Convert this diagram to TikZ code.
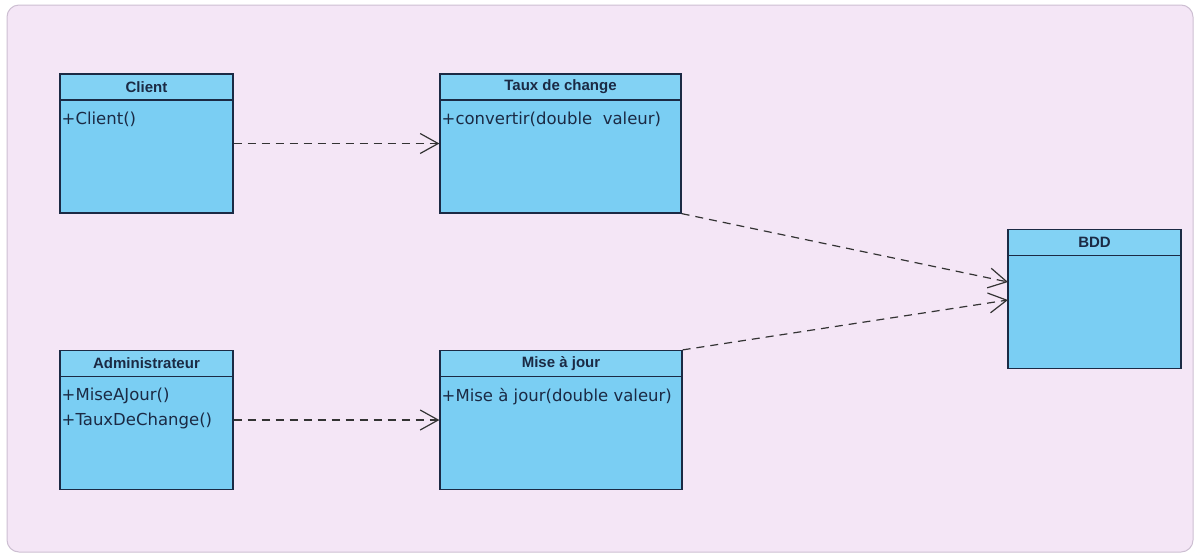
\documentclass[tikz,border=0pt]{standalone}
\usepackage{fontspec}
\setmainfont{Liberation Sans}
\newfontfamily\methodfont{DejaVu Sans}
\usetikzlibrary{arrows.meta,positioning}

\definecolor{bgfill}{HTML}{F4E6F6}
\definecolor{bgline}{HTML}{CDBFD2}
\definecolor{classfill}{HTML}{7ACEF3}
\definecolor{headfill}{HTML}{82D2F4}
\definecolor{classline}{HTML}{1B2A44}

\begin{document}
\begin{tikzpicture}[x=1pt,y=-1pt,
                    dep/.style={-{Straight Barb[length=18pt,width=20pt]},dash pattern=on 8pt off 6pt,
                                line width=1.2pt,draw=black!80},
                    semithick]
  \tikzstyle{classbox}=[draw=classline,fill=classfill,line width=1.2pt,minimum width=173pt,
                        minimum height=139pt,inner sep=0pt]
  \tikzstyle{classhead}=[draw=classline,fill=headfill,line width=1.2pt,minimum height=26pt,
                         inner sep=0pt,font=\fontsize{15}{17}\selectfont\bfseries,text=classline]
  \tikzstyle{methods}=[align=left,inner sep=2pt,font=\methodfont\fontsize{16.5}{25}\selectfont,
                       text=classline]

  \useasboundingbox (0,0) rectangle (1199,555);
  \draw[fill=bgfill,draw=bgline,line width=1pt,rounded corners=12pt] (7,5) rectangle (1193,552);

  % classes
  \node[classbox]                    (client) at (146.5,143.5) {};
  \node[classbox,minimum width=241pt] (taux)  at (560.5,143.5) {};
  \node[classbox]                    (admin)  at (146.5,420)   {};
  \node[classbox,minimum width=242pt] (maj)   at (561,420)     {};
  \node[classbox]                    (bdd)    at (1094.5,299)  {};

  \node[classhead,minimum width=173pt,anchor=north] (clienth) at (client.north) {Client};
  \node[classhead,minimum width=241pt,anchor=north] (tauxh)   at (taux.north)   {Taux de change};
  \node[classhead,minimum width=173pt,anchor=north] (adminh)  at (admin.north)  {Administrateur};
  \node[classhead,minimum width=242pt,anchor=north] (majh)    at (maj.north)    {Mise à jour};
  \node[classhead,minimum width=173pt,anchor=north] (bddh)    at (bdd.north)    {BDD};

  \node[methods,below right=9pt and 0pt of clienth.south west] (clientm) {+Client()};
  \node[methods,below right=9pt and 0pt of tauxh.south west]   (tauxm)   {+convertir(double\ \ valeur)};
  \node[methods,below right=9pt and 0pt of adminh.south west]  (adminm)  {+MiseAJour()\\+TauxDeChange()};
  \node[methods,below right=9pt and 0pt of majh.south west]    (majm)    {+Mise à jour(double valeur)};

  % dependencies
  \coordinate (bddin1) at (1008,282);
  \coordinate (bddin2) at (1008,300);
  \draw[dep] (client.east) -- (taux.west);
  \draw[dep] (admin.east) -- (maj.west);
  \draw[dep] (taux.south east) -- (bddin1);
  \draw[dep] (maj.north east) -- (bddin2);
\end{tikzpicture}
\end{document}
